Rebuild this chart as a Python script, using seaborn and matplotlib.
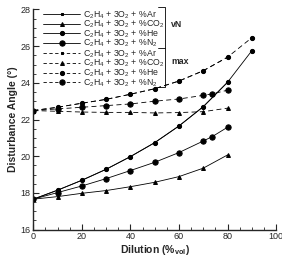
import numpy as np
import pandas as pd
import seaborn as sns
import matplotlib.pyplot as plt

# dilution levels (%vol)
x_he = [0, 10, 20, 30, 40, 50, 60, 70, 80, 90]
x_ar = [0, 10, 20, 30, 40, 50, 60, 70, 80]
x_co2 = [0, 10, 20, 30, 40, 50, 60, 70, 80]
x_n2 = [0, 10, 20, 30, 40, 50, 60, 70, 73.7, 80]

# von Neumann angle (solid)
vn_ar = [17.66, 18.15, 18.69, 19.29, 19.98, 20.74, 21.65, 22.70, 24.03]
vn_co2 = [17.66, 17.80, 17.98, 18.13, 18.34, 18.58, 18.89, 19.35, 20.07]
vn_he = [17.66, 18.15, 18.69, 19.29, 19.98, 20.74, 21.65, 22.70, 24.03, 25.75]
vn_n2 = [17.66, 18.02, 18.38, 18.78, 19.22, 19.67, 20.20, 20.83, 21.07, 21.58]

# max angle (dashed)
mx_ar = [22.49, 22.67, 22.89, 23.10, 23.38, 23.68, 24.10, 24.66, 25.40]
mx_co2 = [22.49, 22.45, 22.41, 22.39, 22.39, 22.36, 22.38, 22.43, 22.62]
mx_he = [22.49, 22.67, 22.89, 23.10, 23.38, 23.68, 24.10, 24.66, 25.40, 26.46]
mx_n2 = [22.49, 22.58, 22.67, 22.76, 22.85, 23.00, 23.12, 23.32, 23.40, 23.60]

labels = [r"C$_2$H$_4$ + 3O$_2$ + %Ar", r"C$_2$H$_4$ + 3O$_2$ + %CO$_2$",
          r"C$_2$H$_4$ + 3O$_2$ + %He", r"C$_2$H$_4$ + 3O$_2$ + %N$_2$"]

sns.set_style("ticks")
plt.rcParams['font.family'] = ['Liberation Sans', 'DejaVu Sans']
plt.rcParams['mathtext.fontset'] = 'custom'
plt.rcParams['mathtext.rm'] = 'Liberation Sans'
plt.rcParams['mathtext.bf'] = 'Liberation Sans:bold'

fig = plt.figure(figsize=(2.82, 2.56), dpi=100)
ax = fig.add_axes([0.118, 0.103, 0.861, 0.86])

series = [
    (x_ar, vn_ar, 's', 2.0, '-'), (x_co2, vn_co2, '^', 2.8, '-'),
    (x_he, vn_he, 'o', 3.0, '-'), (x_n2, vn_n2, 'o', 3.8, '-'),
    (x_ar, mx_ar, 's', 2.0, '--'), (x_co2, mx_co2, '^', 2.8, '--'),
    (x_he, mx_he, 'o', 3.0, '--'), (x_n2, mx_n2, 'o', 3.8, '--'),
]
for i, (xs, ys, m, ms, ls) in enumerate(series):
    sns.lineplot(x=xs, y=ys, ax=ax, color='k', marker=m, markersize=ms,
                 markeredgecolor='k', linestyle=ls, linewidth=0.6,
                 label=labels[i % 4], estimator=None, sort=False)

for ln in ax.lines:
    if ln.get_linestyle() == '--':
        ln.set_dashes((6, 4))

ax.set_xlim(0, 100)
ax.set_ylim(16, 28)
ax.set_xticks(np.arange(0, 101, 20))
ax.set_xticks(np.arange(0, 101, 5), minor=True)
ax.set_yticks(np.arange(16, 29, 2))
ax.set_yticks(np.arange(16, 28.1, 0.5), minor=True)
ax.tick_params(direction='in', labelsize=6.5, length=4, width=0.8, pad=2)
ax.tick_params(which='minor', direction='in', length=2.5, width=0.6)
sns.despine(ax=ax)
for s in ['left', 'bottom']:
    ax.spines[s].set_linewidth(1.0)

ax.set_xlabel(r"Dilution (%$_{\mathbf{vol}}$)", fontsize=7.5, fontweight='bold', labelpad=1)
ax.set_ylabel("Disturbance Angle (°)", fontsize=7.5, fontweight='bold', labelpad=2)

leg = ax.legend(loc='upper left', bbox_to_anchor=(0.02, 1.03), frameon=False,
                fontsize=6.3, handlelength=4.2, labelspacing=-0.22, handletextpad=0.35,
                borderpad=0.1)
for h in leg.legend_handles:
    if h.get_linestyle() == '--':
        h.set_dashes((4, 3))

# bracket marking the two groups
ax.plot([0.514, 0.543, 0.543, 0.514], [1.011, 1.011, 0.648, 0.648],
        transform=ax.transAxes, color='k', lw=0.6, clip_on=False)
ax.plot([0.514, 0.543], [0.825, 0.825], transform=ax.transAxes,
        color='k', lw=0.6, clip_on=False)
ax.text(0.567, 0.934, "vN", transform=ax.transAxes, fontsize=6.3, fontweight='bold', va='center')
ax.text(0.567, 0.762, "max", transform=ax.transAxes, fontsize=6.3, fontweight='bold', va='center')

plt.savefig('out.png', dpi=100)
